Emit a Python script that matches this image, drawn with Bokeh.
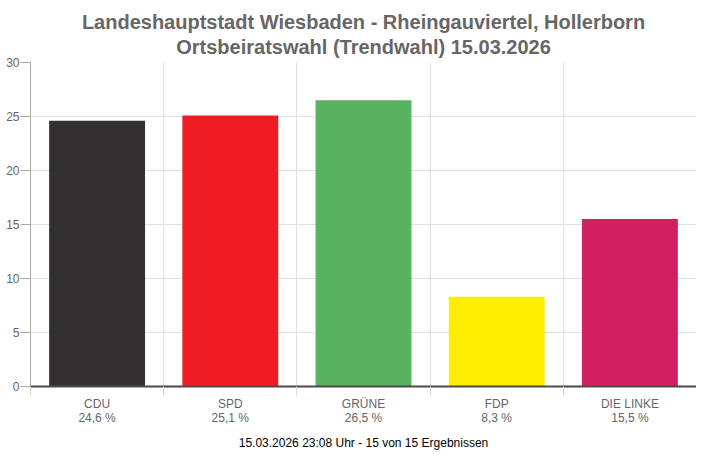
from bokeh.plotting import figure
from bokeh.models import FixedTicker, Range1d, Title, ColumnDataSource
from bokeh.embed import file_html
from bokeh.resources import INLINE

parties = ["CDU", "SPD", "GRÜNE", "FDP", "DIE LINKE"]
values = [24.6, 25.1, 26.5, 8.3, 15.5]
colors = ["#323031", "#ee1c25", "#57b35f", "#ffed00", "#d21f5f"]
y_ticks = [0, 5, 10, 15, 20, 25, 30]
title_lines = ["Landeshauptstadt Wiesbaden - Rheingauviertel, Hollerborn",
               "Ortsbeiratswahl (Trendwahl) 15.03.2026"]
footer = "15.03.2026 23:08 Uhr - 15 von 15 Ergebnissen"

FONT = "Liberation Sans"

centers = [i + 0.5 for i in range(len(parties))]
labels = ["%s\n%s %%" % (p_, ("%.1f" % v).replace(".", ",")) for p_, v in zip(parties, values)]

src = ColumnDataSource(dict(x=centers, top=values, color=colors))

p = figure(width=696, height=452, output_backend="svg", toolbar_location=None,
           x_range=Range1d(0, len(parties)), y_range=Range1d(0, 30),
           min_border_left=30, min_border_right=0, min_border_top=62, min_border_bottom=0)
p.title = None
p.outline_line_color = None
p.background_fill_color = "white"
p.border_fill_color = "white"

p.vbar(x="x", top="top", width=0.72, color="color", source=src, line_color=None)

t2 = Title(text=title_lines[1], align="center", text_font=FONT, text_font_size="20px",
           text_color="#666666", text_font_style="bold", standoff=6, vertical_align="top")
t1 = Title(text=title_lines[0], align="center", text_font=FONT, text_font_size="20px",
           text_color="#666666", text_font_style="bold", standoff=0, vertical_align="bottom")
p.add_layout(t2, "above")
p.add_layout(t1, "above")

# x axis
xa = p.xaxis[0]
xa.ticker = FixedTicker(ticks=centers, minor_ticks=list(range(len(parties) + 1)))
xa.major_label_overrides = {c: l for c, l in zip(centers, labels)}
xa.major_tick_out = 0
xa.major_tick_in = 0
xa.minor_tick_out = 10
xa.minor_tick_in = 0
xa.minor_tick_line_color = "#d8d8d8"
xa.axis_line_color = "#4a4a4a"
xa.axis_line_width = 2
xa.major_label_text_font = FONT
xa.major_label_text_font_size = "12px"
xa.major_label_text_color = "#666666"
xa.major_label_text_line_height = 1.0
xa.major_label_standoff = 0
xa.axis_label = footer
xa.axis_label_text_font = FONT
xa.axis_label_text_font_size = "12px"
xa.axis_label_text_color = "#000000"
xa.axis_label_text_font_style = "normal"
xa.axis_label_standoff = 8

p.xgrid.ticker = FixedTicker(ticks=list(range(len(parties) + 1)))
p.xgrid.grid_line_color = "#e0e0e0"

# y axis
ya = p.yaxis[0]
ya.ticker = FixedTicker(ticks=y_ticks)
ya.major_tick_out = 10
ya.major_tick_in = 0
ya.minor_tick_line_color = None
ya.axis_line_color = "#aaaaaa"
ya.major_tick_line_color = "#aaaaaa"
ya.major_label_text_font = FONT
ya.major_label_text_font_size = "12px"
ya.major_label_text_color = "#666666"
ya.major_label_standoff = 1
p.ygrid.grid_line_color = "#e0e0e0"

open("out.html", "w").write(file_html(p, INLINE))
